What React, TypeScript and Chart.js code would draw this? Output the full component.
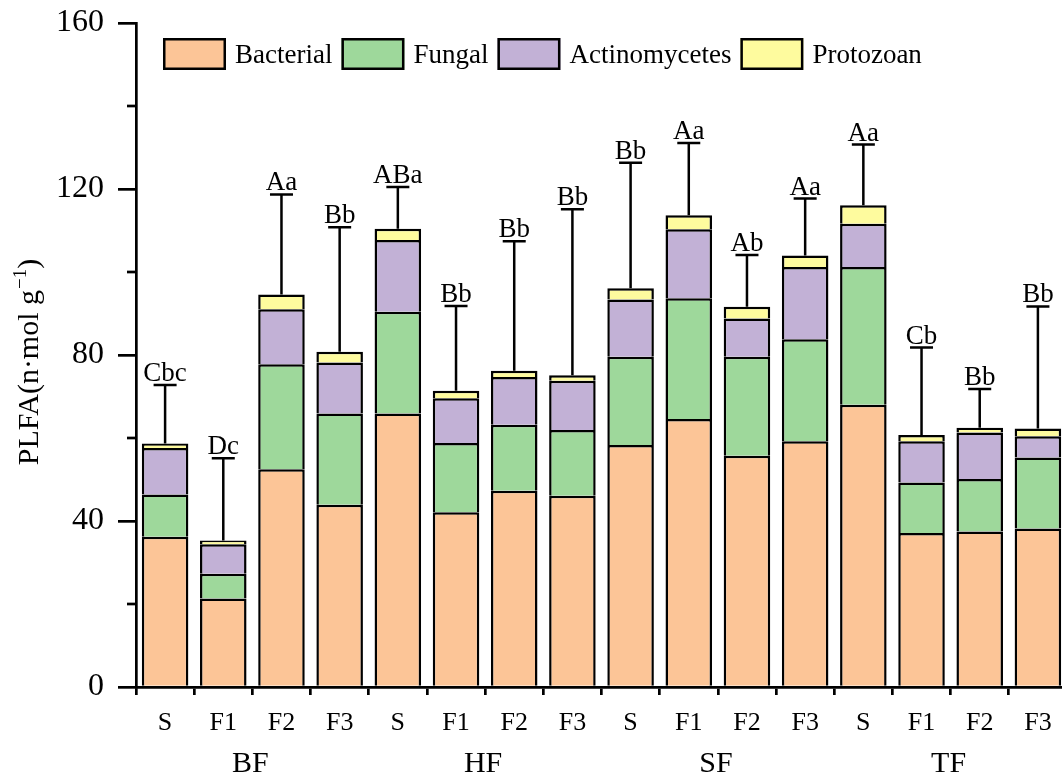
import React, { useEffect, useRef } from 'react';
import { Chart, registerables } from 'chart.js';

Chart.register(...registerables);

// Treatments along the x axis, four per stand type
const categories = ['S', 'F1', 'F2', 'F3', 'S', 'F1', 'F2', 'F3', 'S', 'F1', 'F2', 'F3', 'S', 'F1', 'F2', 'F3'];
const groups = ['BF', 'HF', 'SF', 'TF'];

// PLFA content by microbial group (n·mol g⁻¹)
const bacterial = [36.2, 21.3, 52.5, 43.9, 65.9, 42.1, 47.3, 46.1, 58.3, 64.6, 55.7, 59.2, 68.0, 37.1, 37.5, 38.2];
const fungal = [10.2, 6.0, 25.3, 22.0, 24.5, 16.7, 15.9, 15.8, 21.3, 29.1, 23.9, 24.6, 33.2, 12.2, 12.6, 17.1];
const actinomycetes = [11.2, 7.1, 13.2, 12.3, 17.3, 10.8, 11.5, 11.9, 13.8, 16.6, 9.2, 17.4, 10.4, 9.9, 11.2, 5.1];
const protozoan = [1.1, 0.9, 3.6, 2.6, 2.7, 1.8, 1.5, 1.3, 2.7, 3.4, 2.8, 2.8, 4.5, 1.5, 1.2, 1.9];

// Standard deviation of the total and significance letters
const errors = [14.1, 19.8, 24.1, 30.0, 10.1, 20.4, 31.2, 40.0, 30.2, 17.4, 12.5, 13.7, 14.6, 21.1, 9.3, 29.4];
const letters = ['Cbc', 'Dc', 'Aa', 'Bb', 'ABa', 'Bb', 'Bb', 'Bb', 'Bb', 'Aa', 'Ab', 'Aa', 'Aa', 'Cb', 'Bb', 'Bb'];

const yMajorTicks = [0, 40, 80, 120, 160];
const yMinorTicks = [20, 60, 100, 140];

const FONT = '"Liberation Serif", "Times New Roman", serif';

const overlay = {
  id: 'overlay',
  afterDraw(chart: any) {
    const ctx = chart.ctx as CanvasRenderingContext2D;
    const xs = chart.scales.x;
    const ys = chart.scales.y;
    const area = chart.chartArea;
    ctx.save();
    ctx.strokeStyle = '#000';
    ctx.fillStyle = '#000';

    // minor ticks on the y axis
    ctx.lineWidth = 2.7;
    yMinorTicks.forEach((v) => {
      const y = ys.getPixelForValue(v);
      ctx.beginPath();
      ctx.moveTo(area.left - 9, y);
      ctx.lineTo(area.left, y);
      ctx.stroke();
    });

    // error bars and significance letters
    const ds = chart.data.datasets;
    categories.forEach((_, i) => {
      const total = ds.reduce((s: number, d: any) => s + d.data[i], 0);
      const x = xs.getPixelForValue(i);
      const yTop = ys.getPixelForValue(total);
      const yErr = ys.getPixelForValue(total + errors[i]);
      ctx.lineWidth = 2.5;
      ctx.beginPath();
      ctx.moveTo(x, yTop);
      ctx.lineTo(x, yErr);
      ctx.moveTo(x - 11.5, yErr);
      ctx.lineTo(x + 11.5, yErr);
      ctx.stroke();
      ctx.font = `27px ${FONT}`;
      ctx.textAlign = 'center';
      ctx.textBaseline = 'alphabetic';
      ctx.fillText(letters[i], x, yErr - 4);
    });

    // stand type labels under each block of four treatments
    ctx.font = `30px ${FONT}`;
    ctx.textAlign = 'center';
    ctx.textBaseline = 'alphabetic';
    groups.forEach((g, gi) => {
      const x = (xs.getPixelForValue(gi * 4 + 1) + xs.getPixelForValue(gi * 4 + 2)) / 2;
      ctx.fillText(g, x - 2, 772);
    });

    // y axis title with superscript unit
    ctx.save();
    ctx.translate(38, 362);
    ctx.rotate(-Math.PI / 2);
    ctx.textAlign = 'left';
    const mainFont = `30px ${FONT}`;
    const supFont = `19px ${FONT}`;
    const p1 = 'PLFA(n·mol g';
    const p2 = '−1';
    const p3 = ')';
    ctx.font = mainFont;
    const w1 = ctx.measureText(p1).width;
    const w3 = ctx.measureText(p3).width;
    ctx.font = supFont;
    const w2 = ctx.measureText(p2).width;
    let tx = -(w1 + w2 + 1 + w3) / 2;
    ctx.font = mainFont;
    ctx.fillText(p1, tx, 0);
    tx += w1 + 1;
    ctx.font = supFont;
    ctx.fillText(p2, tx, -12);
    tx += w2;
    ctx.font = mainFont;
    ctx.fillText(p3, tx, 0);
    ctx.restore();

    // legend inside the plot area
    let lx = 163;
    const ly = 38;
    ctx.font = `27px ${FONT}`;
    ctx.textAlign = 'left';
    ctx.textBaseline = 'alphabetic';
    ds.forEach((d: any) => {
      ctx.fillStyle = d.backgroundColor;
      ctx.fillRect(lx, ly, 63, 32);
      ctx.lineWidth = 2.5;
      ctx.strokeStyle = '#000';
      ctx.strokeRect(lx + 1.25, ly + 1.25, 60.5, 29.5);
      ctx.fillStyle = '#000';
      const tx0 = lx + 63 + 9;
      ctx.fillText(d.label, tx0, 63);
      lx = tx0 + ctx.measureText(d.label).width + 9;
    });

    ctx.restore();
  },
};

export default function App() {
  const ref = useRef<HTMLCanvasElement>(null);

  useEffect(() => {
    const canvas = ref.current;
    if (!canvas) return;
    const seg = {
      borderColor: '#000',
      borderWidth: 2.5,
      borderSkipped: 'start' as const,
    };
    const chart = new Chart(canvas, {
      type: 'bar',
      data: {
        labels: categories,
        datasets: [
          { label: 'Bacterial', data: bacterial, backgroundColor: '#FCC597', ...seg },
          { label: 'Fungal', data: fungal, backgroundColor: '#9ED89B', ...seg },
          { label: 'Actinomycetes', data: actinomycetes, backgroundColor: '#C2B1D6', ...seg },
          { label: 'Protozoan', data: protozoan, backgroundColor: '#FEFB9E', ...seg },
        ],
      },
      options: {
        responsive: false,
        animation: false,
        devicePixelRatio: 1,
        layout: { padding: { top: 23, right: 13, bottom: 0, left: 0 } },
        datasets: { bar: { categoryPercentage: 1, barPercentage: 0.8 } },
        plugins: { legend: { display: false }, tooltip: { enabled: false }, title: { display: false } },
        scales: {
          x: {
            stacked: true,
            offset: true,
            grid: {
              offset: true,
              drawOnChartArea: false,
              drawTicks: true,
              tickLength: 8,
              lineWidth: 2.7,
              color: '#000',
            },
            border: { display: true, width: 2.7, color: '#000' },
            ticks: { font: { family: FONT, size: 26 }, color: '#000', padding: 13, maxRotation: 0, autoSkip: false },
            afterFit(s: any) {
              s.height = 91;
              s.paddingLeft = 0;
              s.paddingRight = 0;
            },
          },
          y: {
            stacked: true,
            min: 0,
            max: 160,
            afterBuildTicks(s: any) {
              s.ticks = yMajorTicks.map((v) => ({ value: v }));
            },
            grid: {
              drawOnChartArea: false,
              drawTicks: true,
              tickLength: 18,
              lineWidth: 2.7,
              color: '#000',
            },
            border: { display: true, width: 2.7, color: '#000' },
            ticks: { font: { family: FONT, size: 32 }, color: '#000', padding: 14 },
            afterFit(s: any) {
              s.width = 136;
              s.paddingTop = 0;
              s.paddingBottom = 0;
            },
          },
        },
      },
      plugins: [overlay],
    });
    return () => chart.destroy();
  }, []);

  return (
    <div style={{ position: 'fixed', left: 0, top: 0, width: 1062, height: 778, overflow: 'hidden', background: '#fff' }}>
      <canvas ref={ref} width={1080} height={778} style={{ display: 'block' }} />
    </div>
  );
}
